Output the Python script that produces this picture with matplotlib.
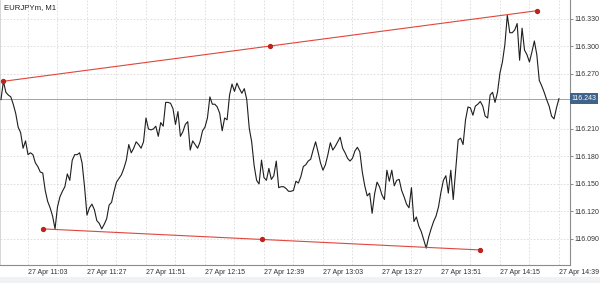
import matplotlib
matplotlib.use('Agg')
import matplotlib.pyplot as plt
import numpy as np

plt.rcParams['font.family'] = ['Liberation Sans', 'DejaVu Sans']

# EURJPYm M1 closes, 27 Apr, first bar 10:52
start_minute = 10 * 60 + 52
close = [
    116.242, 116.262, 116.250, 116.247, 116.245, 116.237, 116.227, 116.212, 116.206, 116.189,
    116.197, 116.182, 116.184, 116.182, 116.173, 116.169, 116.163, 116.162, 116.143, 116.131,
    116.124, 116.115, 116.101, 116.125, 116.136, 116.142, 116.147, 116.161, 116.154, 116.176,
    116.182, 116.182, 116.184, 116.173, 116.147, 116.116, 116.124, 116.128, 116.122, 116.110,
    116.107, 116.101, 116.106, 116.112, 116.127, 116.130, 116.142, 116.152, 116.156, 116.160,
    116.167, 116.176, 116.193, 116.184, 116.189, 116.196, 116.193, 116.189, 116.196, 116.222,
    116.210, 116.209, 116.210, 116.213, 116.202, 116.217, 116.213, 116.239, 116.239, 116.238,
    116.232, 116.215, 116.229, 116.202, 116.207, 116.215, 116.218, 116.187, 116.197, 116.193,
    116.189, 116.196, 116.208, 116.212, 116.222, 116.245, 116.237, 116.237, 116.234, 116.227,
    116.208, 116.222, 116.220, 116.247, 116.259, 116.251, 116.260, 116.254, 116.249, 116.254,
    116.242, 116.211, 116.196, 116.170, 116.154, 116.150, 116.176, 116.157, 116.154, 116.167,
    116.155, 116.159, 116.175, 116.146, 116.147, 116.147, 116.145, 116.142, 116.142, 116.143,
    116.153, 116.151, 116.158, 116.169, 116.171, 116.175, 116.177, 116.187, 116.196, 116.185,
    116.173, 116.165, 116.171, 116.182, 116.195, 116.187, 116.191, 116.196, 116.201, 116.189,
    116.184, 116.178, 116.175, 116.178, 116.186, 116.190, 116.185, 116.163, 116.148, 116.137,
    116.140, 116.118, 116.139, 116.152, 116.147, 116.138, 116.133, 116.165, 116.153, 116.165,
    116.148, 116.154, 116.155, 116.143, 116.136, 116.128, 116.124, 116.146, 116.109, 116.114,
    116.104, 116.098, 116.089, 116.080, 116.092, 116.101, 116.109, 116.115, 116.125, 116.141,
    116.154, 116.159, 116.140, 116.165, 116.133, 116.165, 116.198, 116.200, 116.193, 116.220,
    116.234, 116.233, 116.225, 116.235, 116.237, 116.240, 116.235, 116.224, 116.222, 116.247,
    116.250, 116.239, 116.250, 116.271, 116.283, 116.302, 116.334, 116.315, 116.315, 116.318,
    116.325, 116.285, 116.320, 116.296, 116.291, 116.283, 116.294, 116.306, 116.291, 116.263,
    116.257, 116.250, 116.242, 116.235, 116.224, 116.221, 116.233, 116.243,
]
last_price = 116.243

# trend lines (time "HH:MM", price)
upper_line = [('10:53', 116.262), ('14:30', 116.339)]
lower_line = [('11:09', 116.101), ('14:07', 116.078)]

x_tick_labels = ['11:03', '11:27', '11:51', '12:15', '12:39', '13:03', '13:27', '13:51', '14:15', '14:39']
y_ticks = [116.090, 116.120, 116.150, 116.180, 116.210, 116.270, 116.300, 116.330]


def to_min(s):
    h, m = s.split(':')
    return int(h) * 60 + int(m)


t = start_minute + np.arange(len(close))

fig = plt.figure(figsize=(6, 2.83), dpi=100)
# light strip at the very bottom of the terminal window
fig.patches.append(plt.Rectangle((0, 0), 1, 0.022, transform=fig.transFigure,
                                 fc='#f1f2f4', ec='none', zorder=0))
ax = fig.add_axes([0.0, 0.0636, 0.95, 0.9364])

ax.plot(t, close, color='#1e1e1e', lw=0.8, zorder=3)

for line in [upper_line, lower_line]:
    xs = [to_min(p[0]) for p in line]
    ys = [p[1] for p in line]
    ax.plot(xs, ys, color='#e0463c', lw=0.8, zorder=4)
    ax.plot(xs + [np.mean(xs)], ys + [np.mean(ys)], ls='none', marker='o', ms=2.8,
            color='#c0231b', zorder=5)

ax.axhline(last_price, color='#9aa5ae', lw=0.7, zorder=2)

xt = [to_min(s) for s in x_tick_labels]
ax.set_xticks(xt)
ax.set_xticklabels(['27 Apr ' + s for s in x_tick_labels], ha='left')
ax.set_xticks([v + 12 for v in xt], minor=True)
ax.set_yticks(y_ticks)
ax.set_yticklabels(['%.3f' % v for v in y_ticks])
ax.yaxis.tick_right()

# limits after ticks so the minor ticks do not widen the view
ax.set_xlim(start_minute - 0.39, start_minute + 231.5)
ax.set_ylim(116.0616, 116.3507)

ax.tick_params(axis='x', which='both', length=0, labelsize=5.0, labelcolor='#333333', pad=3)
ax.tick_params(axis='y', length=2, width=0.6, color='#777777', labelsize=5.0,
               labelcolor='#333333', pad=1)

ax.grid(True, which='both', color='#d9d9d9', lw=0.6, ls=(0, (2, 2)))
ax.set_axisbelow(True)

ax.spines['top'].set_visible(False)
ax.spines['left'].set_color('#d0d0d0')
ax.spines['left'].set_linewidth(0.6)
ax.spines['right'].set_color('#8c8c8c')
ax.spines['right'].set_linewidth(0.8)
ax.spines['bottom'].set_color('#8c8c8c')
ax.spines['bottom'].set_linewidth(0.8)

ax.text(1.003, last_price, '%.3f' % last_price, transform=ax.get_yaxis_transform(),
        ha='left', va='center', fontsize=5.0, color='white', zorder=6,
        bbox=dict(boxstyle='square,pad=0.25', fc='#3f6389', ec='none'), clip_on=False)

ax.text(0.007, 0.985, 'EURJPYm, M1', transform=ax.transAxes, ha='left', va='top',
        fontsize=5.6, color='#222222')

fig.savefig('out.png', dpi=100, facecolor='white')
